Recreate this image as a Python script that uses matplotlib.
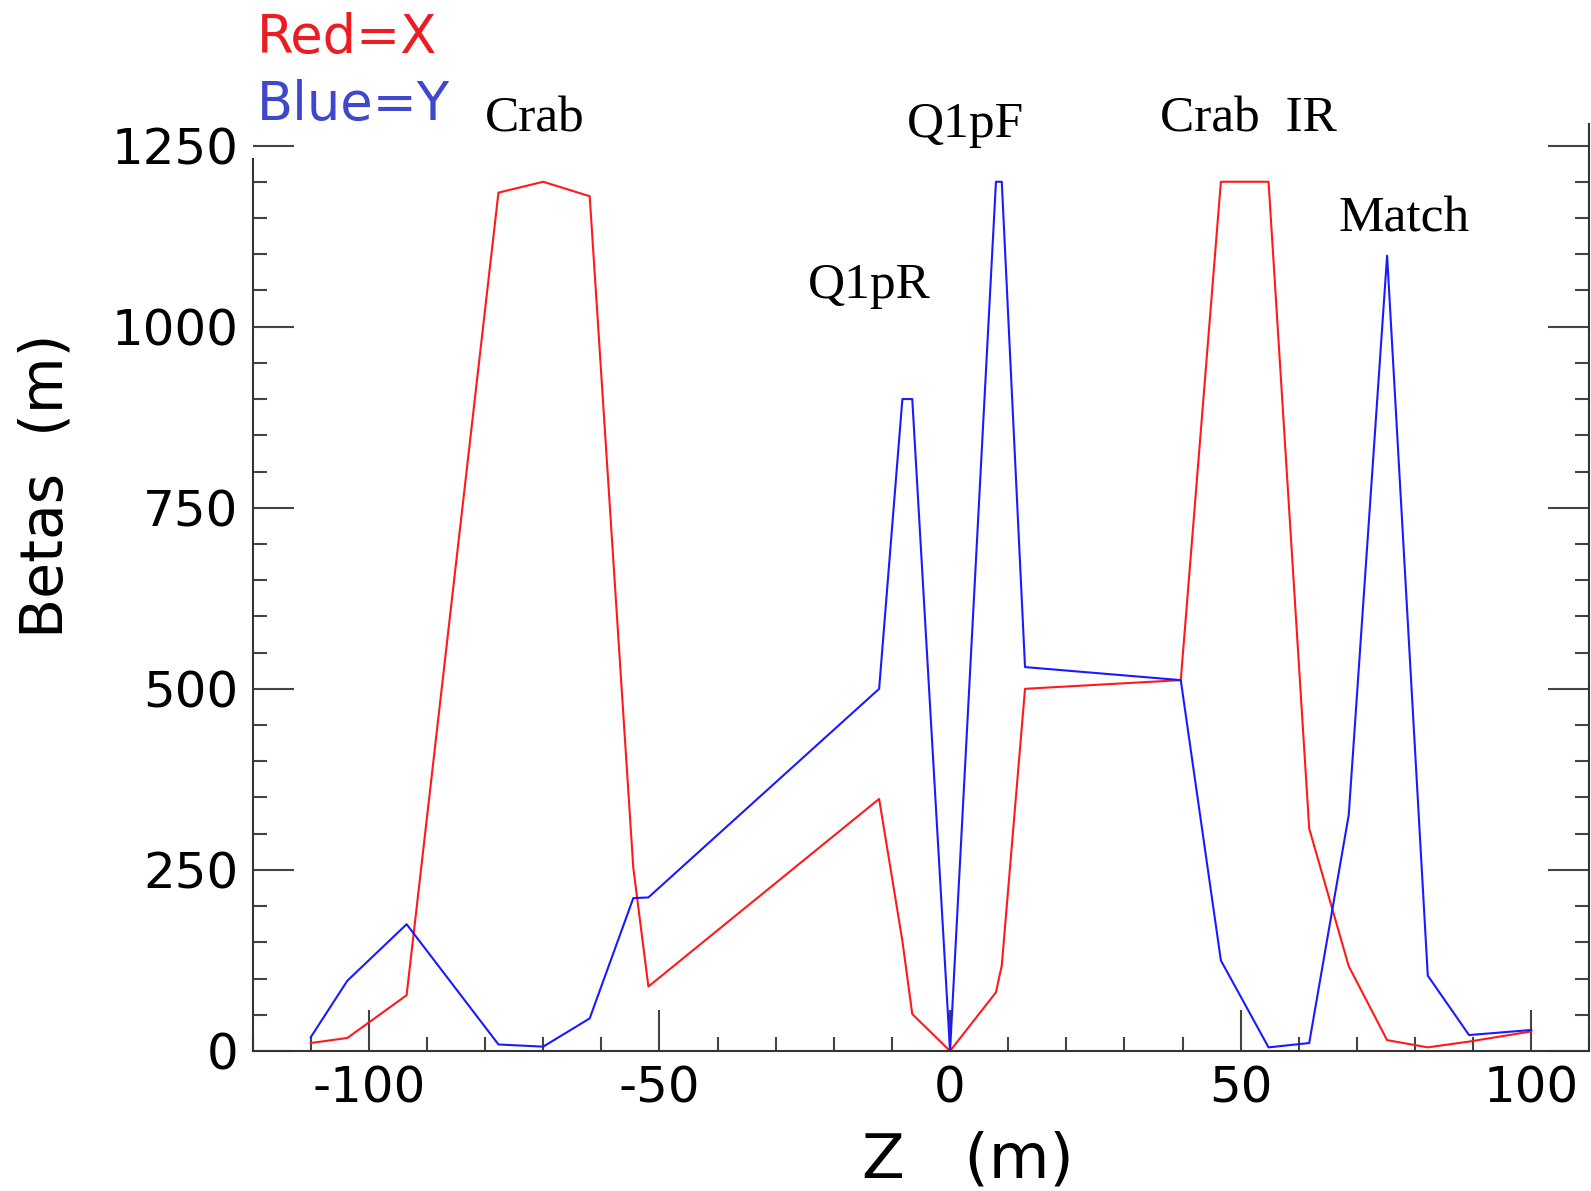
import numpy as np
import matplotlib
matplotlib.use('Agg')
import matplotlib.pyplot as plt
from matplotlib.ticker import MultipleLocator

# lattice functions
z = [-110, -103.7, -93.5, -77.7, -70, -62, -54.5, -51.9, -12.2, -8.2, -6.5, 0,
     7.9, 8.9, 12.9, 39.7, 46.6, 54.8, 61.8, 68.6, 75.2, 82.2, 89.3, 100]
beta_x = [11, 18, 77, 1185, 1200, 1180, 253, 89, 348, 152, 51, 0,
          81, 118, 500, 512, 1200, 1200, 307, 117, 15, 5, 13, 27]
beta_y = [19, 97, 175, 9, 6, 45, 211, 212, 500, 900, 900, 0,
          1200, 1200, 530, 512, 125, 5, 11, 326, 1098, 104, 22, 29]

x_ticks = [-100, -50, 0, 50, 100]
y_ticks = [0, 250, 500, 750, 1000, 1250]
element_names = ['Crab', 'Q1pR', 'Q1pF', 'Crab  IR', 'Match']

plt.rcParams['font.family'] = 'DejaVu Sans'
plt.rcParams['axes.unicode_minus'] = False

fig = plt.figure(figsize=(15.91, 11.91), dpi=100)
ax = fig.add_axes([0.15877, 0.11755, 0.8402, 0.7785])

ax.plot(z, beta_x, color='#ff1a1a', lw=1.5)
ax.plot(z, beta_y, color='#1a1aff', lw=1.5)

ax.set_xlim(-120, 110)
ax.set_ylim(0, 1280)
ax.set_xticks(x_ticks)
ax.set_yticks(y_ticks)
ax.xaxis.set_minor_locator(MultipleLocator(10))
ax.yaxis.set_minor_locator(MultipleLocator(50))

ax.spines['top'].set_visible(False)
for s in ['left', 'right', 'bottom']:
    ax.spines[s].set_color('#333333')
    ax.spines[s].set_linewidth(1.5)
ax.spines['left'].set_bounds(0, 1232)

ax.tick_params(which='major', direction='in', length=29.5, width=1.5,
               color='#444444', labelsize=36, pad=10)
ax.tick_params(which='minor', direction='in', length=10, width=1.5,
               color='#444444')
ax.tick_params(axis='y', which='both', right=True)

# left spine stops short of 1250, so no tick mark there
for t in ax.yaxis.get_major_ticks():
    if t.get_loc() == 1250:
        t.tick1line.set_visible(False)

# element labels
label_pos = [(-80.0, 1270), (-24.4, 1039), (-7.4, 1262), (36.2, 1270), (66.9, 1131)]
for name, (lx, ly) in zip(element_names, label_pos):
    ax.text(lx, ly, name, family='Liberation Serif', fontsize=37,
            ha='left', va='baseline')

fig.text(257 / 1591, 1 - 53 / 1191, 'Red=X', color='#ed1c24', fontsize=38,
         ha='left', va='baseline')
fig.text(257 / 1591, 1 - 120 / 1191, 'Blue=Y', color='#3f48cc', fontsize=38,
         ha='left', va='baseline')

fig.text(46 / 1591, 1 - 485.5 / 1191, 'Betas  (m)', rotation=90, fontsize=42,
         ha='center', va='center')
fig.text(968 / 1591, 1 - 1178 / 1191, 'Z   (m)', fontsize=45,
         ha='center', va='baseline')

fig.savefig('out.png', dpi=100)
